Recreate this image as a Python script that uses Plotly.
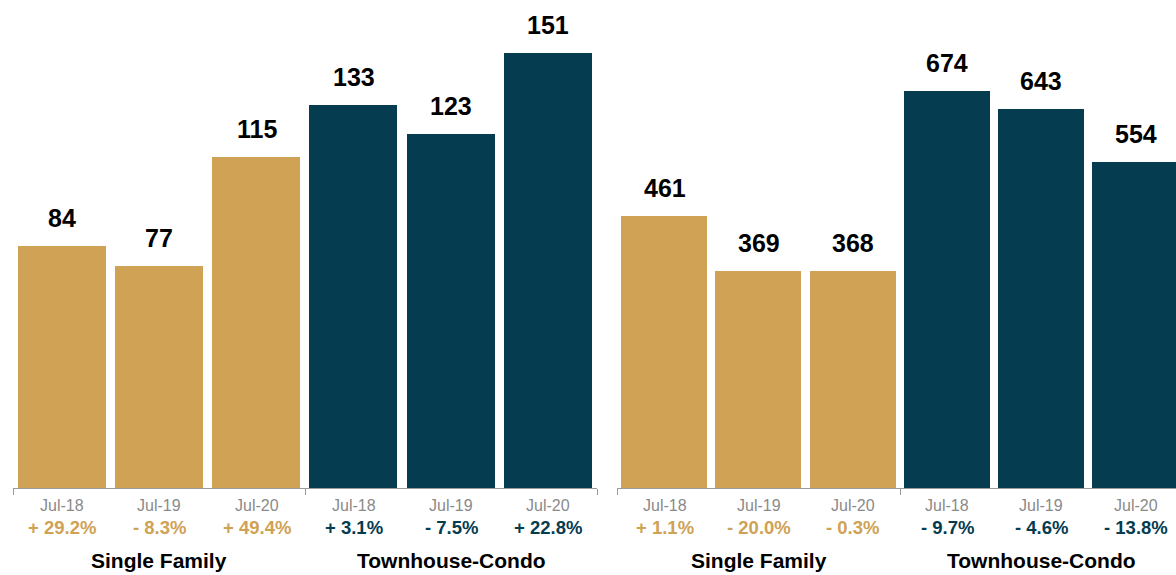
import plotly.graph_objects as go

# Monthly figures, two panels, each with Single Family and Townhouse-Condo groups
months = ["Jul-18", "Jul-19", "Jul-20"]
groups = ["Single Family", "Townhouse-Condo"]

left_sf = [84, 77, 115]
left_tc = [133, 123, 151]
left_sf_chg = ["+ 29.2%", "- 8.3%", "+ 49.4%"]
left_tc_chg = ["+ 3.1%", "- 7.5%", "+ 22.8%"]

right_sf = [461, 369, 368]
right_tc = [674, 643, 554]
right_sf_chg = ["+ 1.1%", "- 20.0%", "- 0.3%"]
right_tc_chg = ["- 9.7%", "- 4.6%", "- 13.8%"]

GOLD = "#CFA255"
TEAL = "#053C50"
FONT = "Liberation Sans"
W, H = 1176, 575

fig = go.Figure()

panels = [
    dict(sf=left_sf, tc=left_tc, sfc=left_sf_chg, tcc=left_tc_chg,
         xa="x", ya="y", width=0.905),
    dict(sf=right_sf, tc=right_tc, sfc=right_sf_chg, tcc=right_tc_chg,
         xa="x2", ya="y2", width=0.913),
]

annotations = []
for p in panels:
    vals = p["sf"] + p["tc"]
    chg = p["sfc"] + p["tcc"]
    colors = [GOLD] * 3 + [TEAL] * 3
    xs = list(range(6))
    fig.add_trace(go.Bar(
        x=xs, y=vals, marker=dict(color=colors, line=dict(width=0)),
        width=p["width"], xaxis=p["xa"], yaxis=p["ya"], showlegend=False,
        hoverinfo="skip",
    ))
    for i, v in enumerate(vals):
        # value above each bar
        annotations.append(dict(
            x=i, y=v, xref=p["xa"], yref=p["ya"], text=str(v), showarrow=False,
            yanchor="bottom", yshift=12,
            font=dict(family=FONT, size=25, color="#000000", weight="bold"),
        ))
        # month label
        annotations.append(dict(
            x=i, y=(H - 505) / H, xref=p["xa"], yref="paper", text=months[i % 3],
            showarrow=False, yanchor="middle",
            font=dict(family=FONT, size=16, color="#8a8a8a"),
        ))
        # change label
        annotations.append(dict(
            x=i, y=(H - 527) / H, xref=p["xa"], yref="paper", text=chg[i],
            showarrow=False, yanchor="middle",
            font=dict(family=FONT, size=18.5, color=colors[i], weight="bold"),
        ))
    for g, name in enumerate(groups):
        annotations.append(dict(
            x=1 + 3 * g, y=(H - 560) / H, xref=p["xa"], yref="paper", text=name,
            showarrow=False, yanchor="middle",
            font=dict(family=FONT, size=21, color="#000000", weight="bold"),
        ))

base = (H - 488) / H
xcommon = dict(showgrid=False, zeroline=False, showline=True, linecolor="#9a9a9a",
               linewidth=1, ticks="outside", ticklen=6, tickcolor="#9a9a9a",
               tickvals=[-0.5, 2.5, 5.5], showticklabels=False, fixedrange=True)
ycommon = dict(showgrid=False, zeroline=False, showline=False, showticklabels=False,
               ticks="", fixedrange=True)

fig.update_layout(
    width=W, height=H,
    margin=dict(l=0, r=0, t=0, b=0),
    paper_bgcolor="white", plot_bgcolor="white",
    xaxis=dict(domain=[13.4 / W, 597 / W], range=[-0.5, 5.5], anchor="y", **xcommon),
    yaxis=dict(domain=[base, 1], range=[0, 169.4], anchor="x", **ycommon),
    xaxis2=dict(domain=[617.4 / W, 1], range=[-0.5, -0.5 + (W - 617.4) / 94.2],
                anchor="y2", **xcommon),
    yaxis2=dict(domain=[base, 1], range=[0, 828.5], anchor="x2", **ycommon),
    annotations=annotations,
    bargap=0,
)

fig.write_html("out.html")
